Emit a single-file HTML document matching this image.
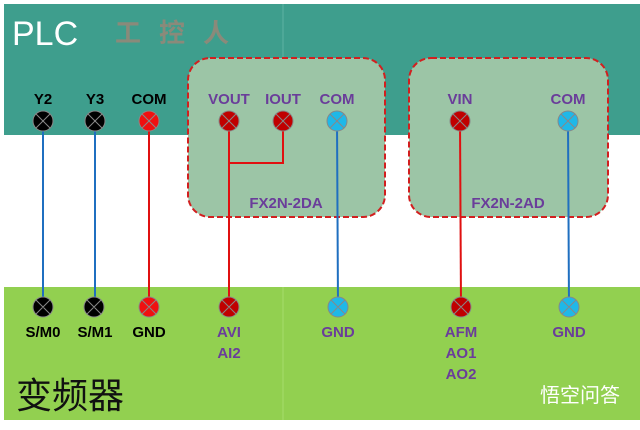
<!DOCTYPE html>
<html><head><meta charset="utf-8"><style>
body{margin:0;width:640px;height:425px;background:#fff;overflow:hidden}
</style></head><body>
<svg width="640" height="425" xmlns="http://www.w3.org/2000/svg" font-family="Liberation Sans, sans-serif" font-weight="bold">
<rect x="4" y="4" width="636" height="131" fill="#3e9e8d"/>
<line x1="283" y1="4" x2="283" y2="135" stroke="#5fb3a3" stroke-width="1"/>
<text x="12" y="45" font-size="34" font-weight="normal" fill="#fff">PLC</text>
<text x="115" y="42" font-size="26" fill="#8a8a7a" letter-spacing="18" font-family="Noto Sans CJK SC, sans-serif">工控人</text>
<rect x="4" y="287" width="636" height="133" fill="#92d050"/>
<line x1="283" y1="287" x2="283" y2="420" stroke="#a6dc6c" stroke-width="1"/>
<rect x="188" y="58" width="197" height="159" rx="22" fill="#9cc5a6" stroke="#d21f1f" stroke-width="2" stroke-dasharray="6,3"/>
<rect x="409" y="58" width="199" height="159" rx="22" fill="#9cc5a6" stroke="#d21f1f" stroke-width="2" stroke-dasharray="6,3"/>
<text x="16" y="408" font-size="36" font-weight="normal" fill="#111" font-family="Noto Sans CJK SC, sans-serif">变频器</text>
<text x="540" y="402" font-size="20" font-weight="normal" fill="#fff" font-family="Noto Sans CJK SC, sans-serif">悟空问答</text>
<g stroke-width="2" fill="none">
<line x1="43" y1="121" x2="43" y2="307" stroke="#1f6fc0"/>
<line x1="95" y1="121" x2="95" y2="307" stroke="#1f6fc0"/>
<line x1="149" y1="121" x2="149" y2="307" stroke="#e01010"/>
<polyline points="229,121 229,307" stroke="#e01010"/>
<polyline points="229,163 283,163 283,121" stroke="#e01010"/>
<line x1="337" y1="121" x2="338" y2="307" stroke="#1f6fc0"/>
<line x1="460" y1="121" x2="461" y2="307" stroke="#e01010"/>
<line x1="568" y1="121" x2="569" y2="307" stroke="#1f6fc0"/>
</g>
<g font-size="15" text-anchor="middle">
<text x="43" y="104" fill="#000">Y2</text>
<text x="95" y="104" fill="#000">Y3</text>
<text x="149" y="104" fill="#000">COM</text>
<text x="229" y="104" fill="#6a3d9a">VOUT</text>
<text x="283" y="104" fill="#6a3d9a">IOUT</text>
<text x="337" y="104" fill="#6a3d9a">COM</text>
<text x="460" y="104" fill="#6a3d9a">VIN</text>
<text x="568" y="104" fill="#6a3d9a">COM</text>
<text x="286" y="208" fill="#6a3d9a">FX2N-2DA</text>
<text x="508" y="208" fill="#6a3d9a">FX2N-2AD</text>
<text x="43" y="337" fill="#000">S/M0</text>
<text x="95" y="337" fill="#000">S/M1</text>
<text x="149" y="337" fill="#000">GND</text>
<text x="229" y="337" fill="#6a3d9a">AVI</text>
<text x="229" y="358" fill="#6a3d9a">AI2</text>
<text x="338" y="337" fill="#6a3d9a">GND</text>
<text x="461" y="337" fill="#6a3d9a">AFM</text>
<text x="461" y="358" fill="#6a3d9a">AO1</text>
<text x="461" y="379" fill="#6a3d9a">AO2</text>
<text x="569" y="337" fill="#6a3d9a">GND</text>
</g>
<g stroke="#888" stroke-width="1">
<g><circle cx="43" cy="121" r="10" fill="#000"/><circle cx="95" cy="121" r="10" fill="#000"/><circle cx="149" cy="121" r="10" fill="#f01010"/><circle cx="229" cy="121" r="10" fill="#c00000"/><circle cx="283" cy="121" r="10" fill="#c00000"/><circle cx="337" cy="121" r="10" fill="#1fb8e8"/><circle cx="460" cy="121" r="10" fill="#c00000"/><circle cx="568" cy="121" r="10" fill="#1fb8e8"/></g>
<g><circle cx="43" cy="307" r="10" fill="#000"/><circle cx="94" cy="307" r="10" fill="#000"/><circle cx="149" cy="307" r="10" fill="#f01010"/><circle cx="229" cy="307" r="10" fill="#c00000"/><circle cx="338" cy="307" r="10" fill="#1fb8e8"/><circle cx="461" cy="307" r="10" fill="#c00000"/><circle cx="569" cy="307" r="10" fill="#1fb8e8"/></g>
<path d="M36 114l14 14M50 114l-14 14M88 114l14 14M102 114l-14 14M142 114l14 14M156 114l-14 14M222 114l14 14M236 114l-14 14M276 114l14 14M290 114l-14 14M330 114l14 14M344 114l-14 14M453 114l14 14M467 114l-14 14M561 114l14 14M575 114l-14 14"/>
<path d="M36 300l14 14M50 300l-14 14M87 300l14 14M101 300l-14 14M142 300l14 14M156 300l-14 14M222 300l14 14M236 300l-14 14M331 300l14 14M345 300l-14 14M454 300l14 14M468 300l-14 14M562 300l14 14M576 300l-14 14"/>
</g>
</svg>
</body></html>
